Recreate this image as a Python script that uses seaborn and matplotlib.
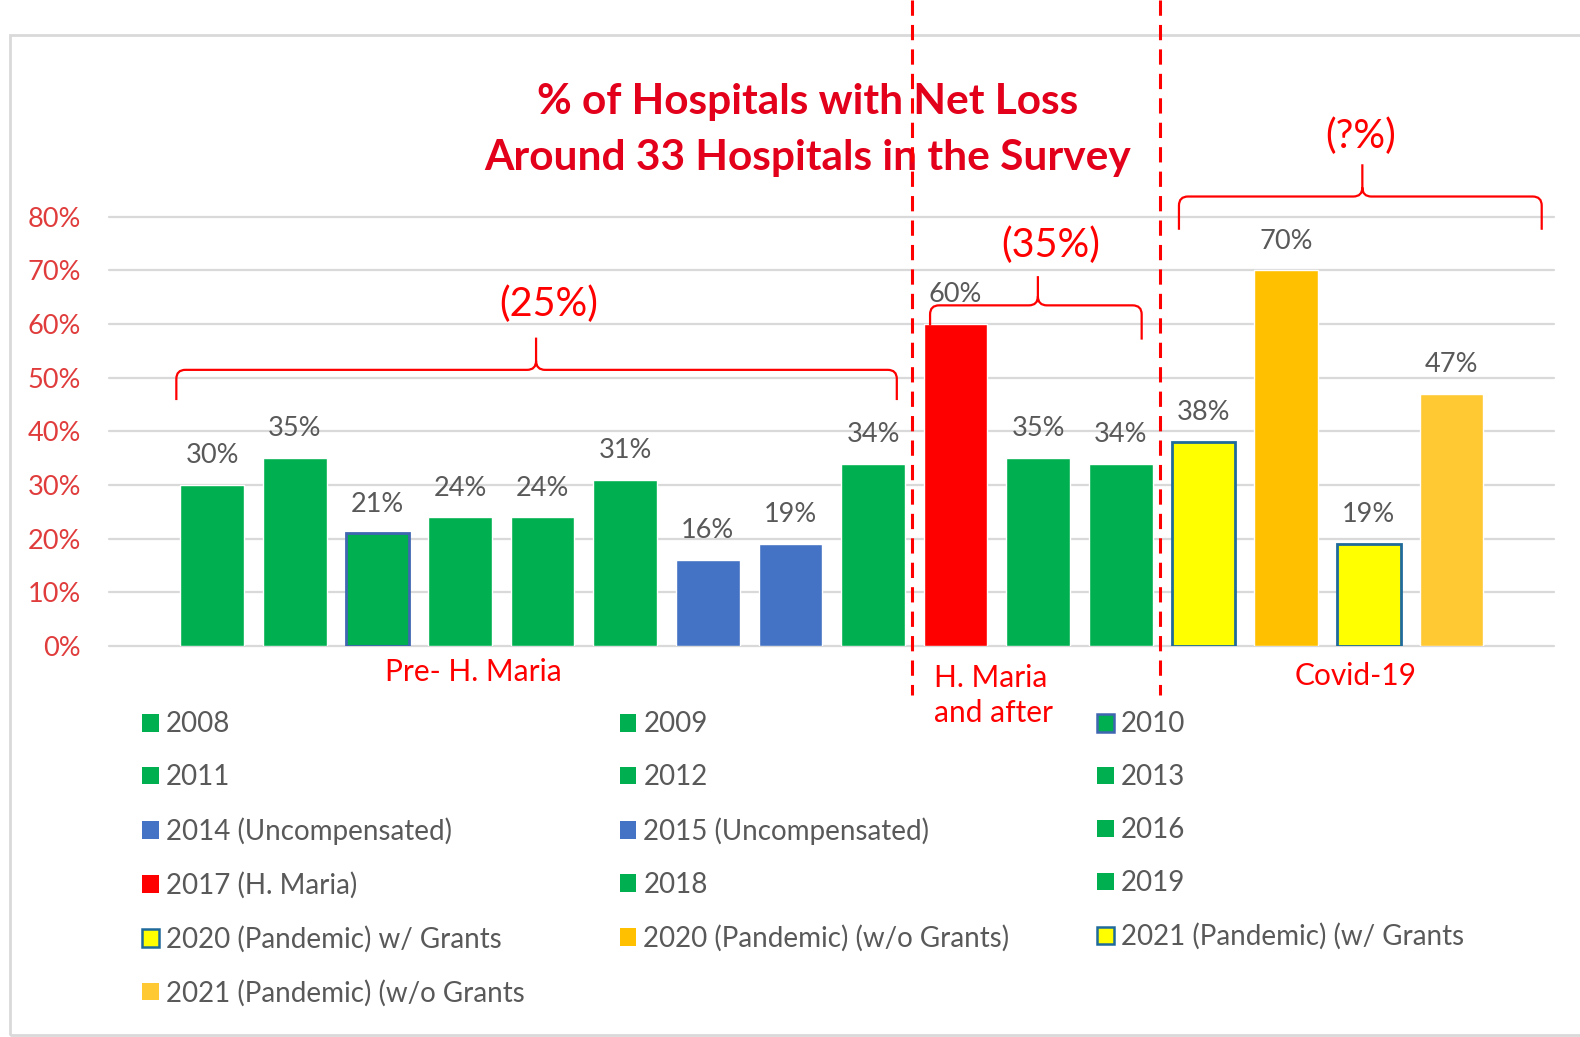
import numpy as np
import pandas as pd
import matplotlib
matplotlib.use("Agg")
import matplotlib.pyplot as plt
from matplotlib.patches import Patch, PathPatch, Rectangle
from matplotlib.path import Path
from matplotlib.lines import Line2D
import seaborn as sns

# data
categories = ["2008", "2009", "2010", "2011", "2012", "2013",
              "2014 (Uncompensated)", "2015 (Uncompensated)", "2016",
              "2017 (H. Maria)", "2018", "2019",
              "2020 (Pandemic) w/ Grants", "2020 (Pandemic) (w/o Grants)",
              "2021 (Pandemic) (w/ Grants", "2021 (Pandemic) (w/o Grants"]
values = [30, 35, 21, 24, 24, 31, 16, 19, 34, 60, 35, 34, 38, 70, 19, 47]
y_ticks = [0, 10, 20, 30, 40, 50, 60, 70, 80]
group_labels = ["(25%)", "(35%)", "(?%)"]
section_labels = ["Pre- H. Maria", "H. Maria\nand after", "Covid-19"]
title_lines = ["% of Hospitals with Net Loss", "Around 33 Hospitals in the Survey"]

# colours
GREEN, BLUE, RED = "#00B050", "#4472C4", "#FF0000"
YELLOW, ORANGE, LORANGE = "#FFFF00", "#FFC000", "#FFC934"
fills = [GREEN, GREEN, GREEN, GREEN, GREEN, GREEN, BLUE, BLUE, GREEN,
         RED, GREEN, GREEN, YELLOW, ORANGE, YELLOW, LORANGE]
edges = [None, None, "#3F66B0", None, None, None, None, None, None,
         None, None, None, "#1F6A9A", None, "#1F6A9A", None]

W, H = 1568, 1029  # coordinates measured on the reference


def fx(x):
    return x / W


def fy(y):
    return 1 - y / H


def brace(x0, x1, y, yl, yr, xm, ytip, r=9):
    verts = [(x0, yl), (x0, y + r), (x0, y), (x0 + r, y), (xm - r, y), (xm, y), (xm, y - r), (xm, ytip),
             (xm, y - r), (xm, y), (xm + r, y), (x1 - r, y), (x1, y), (x1, y + r), (x1, yr)]
    codes = [Path.MOVETO, Path.LINETO, Path.CURVE3, Path.CURVE3, Path.LINETO, Path.CURVE3, Path.CURVE3, Path.LINETO,
             Path.MOVETO, Path.CURVE3, Path.CURVE3, Path.LINETO, Path.CURVE3, Path.CURVE3, Path.LINETO]
    verts = [(fx(a), fy(b)) for a, b in verts]
    fig.add_artist(PathPatch(Path(verts, codes), transform=fig.transFigure,
                             fill=False, ec=RED, lw=1.6, zorder=5))


sns.set_theme(style="white")
plt.rcParams["font.family"] = ["Lato", "DejaVu Sans"]

fig = plt.figure(figsize=(15.8, 10.37), dpi=100)
ax = fig.add_axes([fx(108), fy(641), fx(1542) - fx(108), fy(215) - fy(641)])

df = pd.DataFrame({"year": categories, "pct": values})
sns.barplot(data=df, x="year", y="pct", hue="year", order=categories, hue_order=categories,
            palette=dict(zip(categories, fills)), saturation=1, width=0.77,
            legend=False, ax=ax, zorder=2)

for patch, ec in zip(ax.patches, edges):
    if ec:
        patch.set_edgecolor(ec)
        patch.set_linewidth(2)

for container, v in zip(ax.containers, values):
    ax.bar_label(container, labels=[f"{v}%"], padding=12, fontsize=19.5, color="#595959")

ax.set_xlim(-1.25, 16.24)
ax.set_ylim(0, 80)
ax.set_yticks(y_ticks)
ax.set_yticklabels([f"{t}%" for t in y_ticks], color="#E03C3C", fontsize=19.5)
ax.set_xticks([])
ax.set_xlabel("")
ax.set_ylabel("")
ax.tick_params(axis="y", length=0, pad=20)
ax.yaxis.grid(True, color="#D9D9D9", lw=1.6)
for gl in ax.get_ygridlines():
    gl.set_clip_on(False)
ax.set_axisbelow(True)
sns.despine(ax=ax, left=True, bottom=True)
ax.patch.set_alpha(0)

# panel frame
fig.add_artist(Rectangle((fx(10), fy(1027)), fx(1700) - fx(10), fy(35) - fy(1027),
                         transform=fig.transFigure, fill=False, ec="#D9D9D9", lw=2, zorder=0))

# title
fig.text(fx(801), fy(101), title_lines[0], ha="center", va="center", fontsize=30.5,
         fontweight="bold", color="#E3001B")
fig.text(fx(801), fy(157), title_lines[1], ha="center", va="center", fontsize=30.5,
         fontweight="bold", color="#E3001B")

# period separators
for xd in [905, 1151]:
    fig.add_artist(Line2D([fx(xd), fx(xd)], [fy(0), fy(690)], transform=fig.transFigure,
                          color=RED, lw=2.2, ls=(0, (5, 3)), zorder=6))

# braces and group labels
brace(175, 890, 367, 397, 397, 532, 335)
brace(923, 1133, 303, 323, 337, 1030, 274)
brace(1170, 1530, 195, 228, 228, 1352, 163)
fig.text(fx(545), fy(302), group_labels[0], ha="center", va="center", fontsize=28.5, color=RED)
fig.text(fx(1043), fy(243), group_labels[1], ha="center", va="center", fontsize=28.5, color=RED)
fig.text(fx(1350), fy(135), group_labels[2], ha="center", va="center", fontsize=28.5, color=RED)

# section labels
fig.text(fx(470), fy(667), section_labels[0], ha="center", va="center", fontsize=21.5, color=RED)
fig.text(fx(927), fy(690), section_labels[1], ha="left", va="center", fontsize=21.5, color=RED,
         linespacing=1.3)
fig.text(fx(1345), fy(671), section_labels[2], ha="center", va="center", fontsize=21.5, color=RED)

# legend, three columns filled row by row
handles = [Patch(facecolor=f, edgecolor=e if e else f, linewidth=1.8 if e else 0)
           for f, e in zip(fills, edges)]
cols = [[0, 3, 6, 9, 12, 15], [1, 4, 7, 10, 13], [2, 5, 8, 11, 14]]
for xs, idx in zip([141, 615, 1089], cols):
    fig.legend([handles[i] for i in idx], [categories[i] for i in idx], loc="upper left",
               bbox_to_anchor=(fx(xs), fy(706)), frameon=False, fontsize=20,
               handlelength=0.6, handleheight=0.6, handletextpad=0.25, labelspacing=0.97,
               borderpad=0, borderaxespad=0, labelcolor="#595959")

fig.savefig("out.png", dpi=100, facecolor="white")
